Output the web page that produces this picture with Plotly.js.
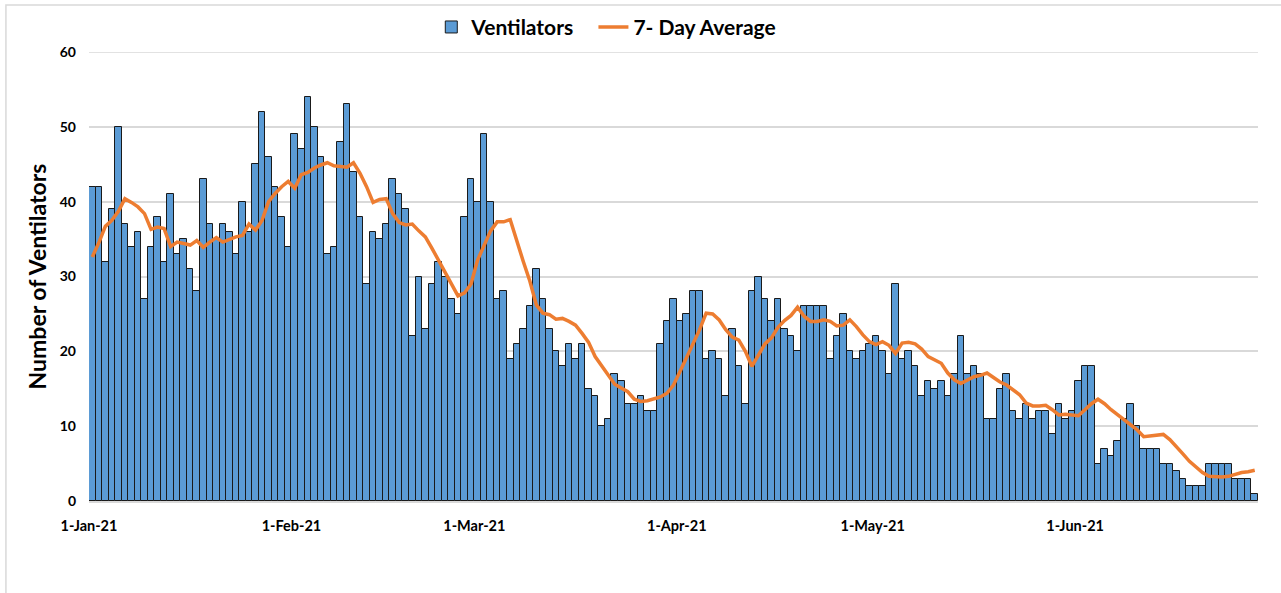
<!DOCTYPE html>
<html>
<head>
<meta charset="utf-8">
<script src="https://cdn.plot.ly/plotly-3.0.1.min.js"></script>
<style>
  body { margin: 0; background: #fff; }
  #grafico { width: 1281px; height: 593px; }
</style>
</head>
<body>
<div id="grafico"></div>
<script>
// daily counts, 1-Jan-21 .. 28-Jun-21
let ventilators = [
  42,42,32,39,50,37,34,36,27,34,38,32,41,33,35,31,28,43,37,35,37,36,33,40,36,45,52,46,42,
  38,34,49,47,54,50,46,33,34,48,53,44,38,29,36,35,37,43,41,39,22,30,23,29,32,30,27,25,38,
  43,40,49,40,27,28,19,21,23,26,31,27,23,20,18,21,19,21,15,14,10,11,17,16,13,13,14,12,12,
  21,24,27,24,25,28,28,19,20,19,14,23,18,13,28,30,27,24,27,23,22,20,26,26,26,26,19,22,25,
  20,19,20,21,22,20,17,29,19,20,18,14,16,15,16,14,17,22,17,18,17,11,11,15,17,12,11,13,11,
  12,12,9,13,11,12,16,18,18,5,7,6,8,11,13,10,7,7,7,5,5,4,3,2,2,2,5,5,5,5,3,3,3,1
];

let average7 = [
  32.6,34.5,36.7,37.5,38.7,40.4,39.9,39.3,38.4,36.3,36.6,36.4,34.0,34.6,34.4,34.2,34.8,33.9,34.6,35.2,34.6,35.0,35.3,35.5,37.0,36.2,37.5,40.0,41.1,
  42.0,42.7,41.8,43.6,43.9,44.5,44.9,45.2,44.8,44.7,44.6,45.2,43.8,42.0,39.9,40.3,40.4,38.4,37.2,36.9,37.0,36.1,35.3,33.8,32.2,30.6,28.9,27.4,27.8,
  29.0,32.2,34.2,36.1,37.3,37.3,37.6,34.7,32.0,29.4,26.2,25.1,24.9,24.3,24.4,24.0,23.5,22.4,21.2,19.3,18.0,16.7,15.6,15.1,14.6,13.6,13.3,13.4,13.6,
  13.9,14.4,15.5,17.3,19.1,21.1,22.9,25.1,25.0,24.2,22.9,21.9,21.5,20.0,18.0,19.5,21.0,21.8,23.2,24.1,24.8,25.9,24.7,24.0,24.0,24.2,24.0,23.4,23.5,
  24.2,23.3,22.2,21.3,20.9,21.3,20.8,19.7,21.1,21.2,21.0,20.3,19.3,18.8,18.4,17.1,16.2,15.7,16.2,16.6,16.8,17.1,16.5,15.9,15.5,14.8,14.2,13.1,12.7,
  12.7,12.8,12.2,11.5,11.6,11.5,11.4,12.2,13.0,13.6,13.0,12.2,11.5,10.8,10.2,9.5,8.6,8.7,8.8,8.9,8.2,7.3,6.3,5.3,4.5,3.8,3.3,3.2,3.2,3.3,3.6,3.8,3.9,4.1
];

let startDate = '2021-01-01';
let fechas = [];
for (let i = 0; i < ventilators.length; i++) {
    let d = new Date(startDate + 'T00:00:00Z');
    d.setUTCDate(d.getUTCDate() + i);
    fechas.push(d.toISOString().slice(0, 10));
}

let fuente = 'Lato, "Open Sans", sans-serif';
let dia = 86400000;

let barras = {
    type: 'bar',
    x: fechas,
    y: ventilators,
    xperiod: dia,
    xperiodalignment: 'middle',
    marker: {
        color: '#5b9bd5',
        line: { color: '#1a1a1a', width: 1 }
    },
    name: 'Ventilators',
    legend: 'legend'
};

let promedio = {
    type: 'scatter',
    mode: 'lines',
    x: fechas,
    y: average7,
    xperiod: dia,
    xperiodalignment: 'middle',
    line: { color: '#ed7d31', width: 3.5 },
    name: '7- Day Average',
    legend: 'legend2'
};

let data = [barras, promedio];

let leyenda = {
    orientation: 'h',
    xanchor: 'left',
    y: 1.055, yanchor: 'middle',
    font: { size: 21, weight: 'bold', color: '#000' },
    bgcolor: 'rgba(0,0,0,0)'
};

let layout = {
    width: 1281,
    height: 593,
    margin: { l: 89, r: 23, t: 52, b: 92, autoexpand: false },
    paper_bgcolor: '#fff',
    plot_bgcolor: '#fff',
    bargap: 0,
    font: { family: fuente, color: '#000', size: 14, weight: 'bold' },
    showlegend: true,
    legend: Object.assign({}, leyenda, { x: (431 - 89) / 1168 }),
    legend2: Object.assign({}, leyenda, { x: (593 - 89) / 1168 }),
    xaxis: {
        type: 'date',
        range: ['2021-01-01', '2021-06-29'],
        tick0: '2021-01-01',
        dtick: 'M1',
        tickformat: '%-d-%b-%y',
        showgrid: false,
        showline: true,
        linecolor: '#d9d9d9',
        linewidth: 1.5,
        ticks: '',
        ticklabelstandoff: 11,
        tickfont: { size: 14.5, weight: 'bold' }
    },
    yaxis: {
        range: [0, 60],
        dtick: 10,
        showgrid: true,
        gridcolor: '#d9d9d9',
        gridwidth: 1.5,
        zeroline: false,
        ticks: '',
        ticklabelstandoff: 12,
        tickfont: { size: 14, weight: 'bold' },
        title: {
            text: 'Number of Ventilators',
            font: { size: 23, weight: 'bold' },
            standoff: 6
        }
    },
    shapes: [{
        type: 'rect', xref: 'paper', yref: 'paper',
        x0: (6 - 89) / 1168, x1: (1300 - 89) / 1168,
        y0: (501 - 610) / 449, y1: (501 - 5) / 449,
        line: { color: '#d9d9d9', width: 1.5 },
        layer: 'below'
    }, {
        type: 'line', xref: 'paper', yref: 'y',
        x0: 0, x1: 1, y0: 60, y1: 60,
        line: { color: '#d9d9d9', width: 1.5 },
        layer: 'below'
    }]
};

let config = { responsive: false, displayModeBar: false };

Plotly.newPlot('grafico', data, layout, config);
</script>
</body>
</html>
